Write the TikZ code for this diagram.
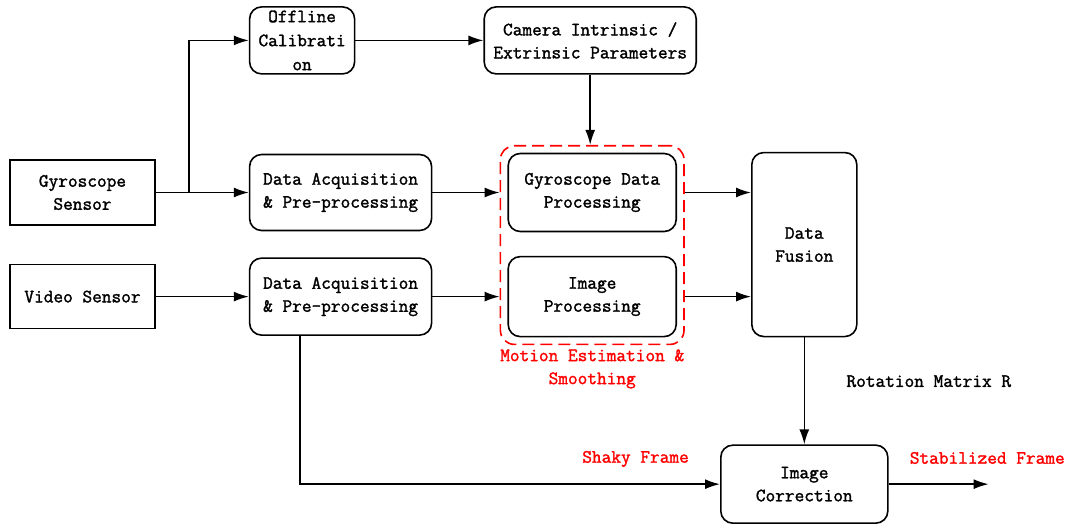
\documentclass[tikz,border=0pt]{standalone}
\usepackage{fontspec}
\setmainfont{Latin Modern Mono}[FakeBold=1.6]
\usetikzlibrary{positioning, fit, arrows.meta, calc}

\begin{document}
\begin{tikzpicture}[
    x=1pt, y=-1pt,
    font=\fontsize{18.8}{23}\selectfont,
    % Styles
    sensor/.style={
        rectangle,
        draw,
        line width=1.6pt,
        align=center,
        minimum width=145pt,
        minimum height=65pt
    },
    block/.style={
        rectangle,
        rounded corners=12pt,
        draw,
        line width=1.6pt,
        align=center,
        inner sep=2pt
    },
    group/.style={
        rectangle,
        rounded corners=14pt,
        draw=red,
        dash pattern=on 12pt off 6pt,
        line width=1.6pt,
        inner sep=7pt
    },
    note/.style={
        align=center,
        inner sep=1pt
    },
    rednote/.style={
        note,
        text=red
    },
    arrow/.style={
        -{Latex[length=15pt,width=10pt]},
        line width=1.6pt
    }
]
    \useasboundingbox (0,0) rectangle (1070,523);

    % Sensors
    \node[sensor] (gyro) at (82.5,192.5) {Gyroscope\\Sensor};
    \node[sensor, minimum height=64pt, below=38pt of gyro] (video) {Video Sensor};

    % Layers
    \node[block, minimum width=182pt, minimum height=76pt, right=93pt of gyro] (acq1) {Data Acquisition\\\& Pre-processing};
    \node[block, minimum width=182pt, minimum height=77pt, right=93pt of video] (acq2) {Data Acquisition\\\& Pre-processing};
    \node[block, minimum width=105pt, minimum height=67pt, above=79pt of acq1.north west, anchor=south west] (calib) {Offline\\[1pt]Calibrati\\[1pt]on};
    \node[block, minimum width=212pt, minimum height=67pt, right=128pt of calib] (camera) {Camera Intrinsic /\\Extrinsic Parameters};
    \node[block, minimum width=168pt, minimum height=78pt, right=75pt of acq1] (gdp) {Gyroscope Data\\Processing};
    \node[block, minimum width=168pt, minimum height=80pt, right=75pt of acq2] (imgproc) {Image\\Processing};
    \node[group, fit=(gdp)(imgproc)] (motion) {};
    \node[rednote, below=3pt of motion] (motionlbl) {Motion Estimation \&\\Smoothing};
    \node[block, minimum width=105pt, minimum height=184pt, right=74pt of $(gdp.east)!0.5!(imgproc.east)$] (fusion) {Data\\Fusion};
    \node[block, minimum width=167pt, minimum height=78pt, below=107pt of fusion] (correction) {Image\\Correction};

    % Labels
    \node[note, anchor=west] (rot) at ($(fusion.south)!0.41!(correction.north)+(41,0)$) {Rotation Matrix R};
    \node[rednote, above left=16pt and 30pt of correction.west] (shaky) {Shaky Frame};
    \node[rednote, above right=19pt and 20pt of correction.east] (stable) {Stabilized Frame};
    \coordinate[right=100pt of correction.east] (out);
    \coordinate[right=33pt of gyro.east] (split);

    % Paths
    \draw[arrow] (gyro.east) -- (acq1.west);
    \draw[arrow] (split) |- (calib.west);
    \draw[arrow] (calib.east) -- (camera.west);
    \draw[arrow] (camera.south) -- (camera.south |- motion.north);
    \draw[arrow] (video.east) -- (acq2.west);
    \draw[arrow] (acq1.east) -- (motion.west |- acq1.east);
    \draw[arrow] (acq2.east) -- (motion.west |- acq2.east);
    \draw[arrow] (motion.east |- gdp.east) -- (fusion.west |- gdp.east);
    \draw[arrow] (motion.east |- imgproc.east) -- (fusion.west |- imgproc.east);
    \draw[arrow] (fusion.south) -- (correction.north);
    \draw[arrow] (acq2.south -| 300,0) |- (correction.west);
    \draw[arrow] (correction.east) -- (out);
\end{tikzpicture}
\end{document}
